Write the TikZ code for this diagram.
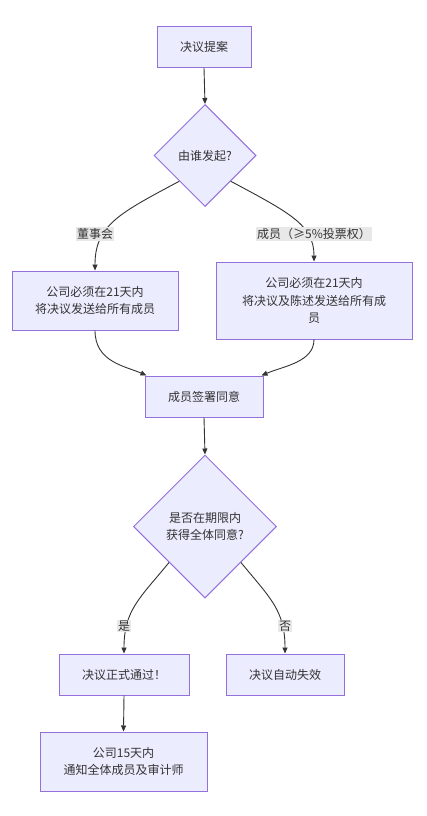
\documentclass[tikz,border=0pt]{standalone}
\usepackage{fontspec}
\setmainfont{Noto Sans CJK SC}
\usetikzlibrary{shapes.geometric,arrows.meta}
\definecolor{nodefill}{HTML}{ECECFF}
\definecolor{nodeline}{HTML}{9370DB}
\definecolor{ink}{HTML}{333333}
\definecolor{labelbg}{HTML}{E8E8E8}
\tikzset{
  box/.style={draw=nodeline, fill=nodefill, line width=1pt, inner sep=0pt, align=center, text=ink, font=\fontsize{12}{17.5}\selectfont},
  choice/.style={draw=nodeline, fill=nodefill, line width=1pt, shape=diamond, inner sep=0pt, align=center, text=ink, font=\fontsize{12}{17.5}\selectfont},
  edge/.style={draw=ink, line width=0.9pt, -{Triangle[length=6pt,width=5pt]}},
  elabel/.style={fill=labelbg, text=ink, inner sep=1pt, font=\fontsize{12}{14}\selectfont}
}
\begin{document}
\begin{tikzpicture}[x=1pt,y=-1pt]
\useasboundingbox[fill=white] (0,0) rectangle (427,816);
% nodes
\node[box, minimum width=94pt, minimum height=41pt] (A) at (204,47) {决议提案};
\node[choice, minimum width=102pt, minimum height=102pt] (B) at (205,155.5) {由谁发起?};
\node[box, minimum width=166pt, minimum height=59pt] (C) at (95,300.5) {公司必须在21天内\\将决议发送给所有成员};
\node[box, minimum width=196pt, minimum height=77pt] (D) at (314,300.5) {公司必须在21天内\\将决议及陈述发送给所有成\\员};
\node[box, minimum width=118pt, minimum height=41pt] (E) at (204,396.5) {成员签署同意};
\node[choice, minimum width=143pt, minimum height=143pt] (F) at (205,526.5) {是否在期限内\\获得全体同意?};
\node[box, minimum width=130pt, minimum height=41pt] (G) at (124,674.5) {决议正式通过！};
\node[box, minimum width=118pt, minimum height=41pt] (H) at (285,674.5) {决议自动失效};
\node[box, minimum width=167pt, minimum height=59pt] (I) at (123.5,761.5) {公司15天内\\通知全体成员及审计师};
% edges
\draw[edge] (A.south) -- (B.north);
\draw[edge] (B.south west) .. controls (120,213) and (95,225) .. (C.north);
\draw[edge] (B.south east) .. controls (290,213) and (314,225) .. (D.north);
\draw[edge] (C.south) .. controls (95,362) and (125,366) .. ([xshift=2pt]E.north west);
\draw[edge] (D.south) .. controls (314,362) and (284,366) .. ([xshift=-2pt]E.north east);
\draw[edge] (E.south) -- (F.north);
\draw[edge] (F.south west) .. controls (140,598) and (124,610) .. (G.north);
\draw[edge] (F.south east) .. controls (270,598) and (285,610) .. (H.north);
\draw[edge] (G.south) -- (I.north);
% edge labels
\node[elabel] (lB) at (95,234) {董事会};
\node[elabel] (lD) at (314,234) {成员（≥5\%投票权）};
\node[elabel] (lG) at (124,626) {是};
\node[elabel] (lH) at (285,626) {否};
\end{tikzpicture}
\end{document}
